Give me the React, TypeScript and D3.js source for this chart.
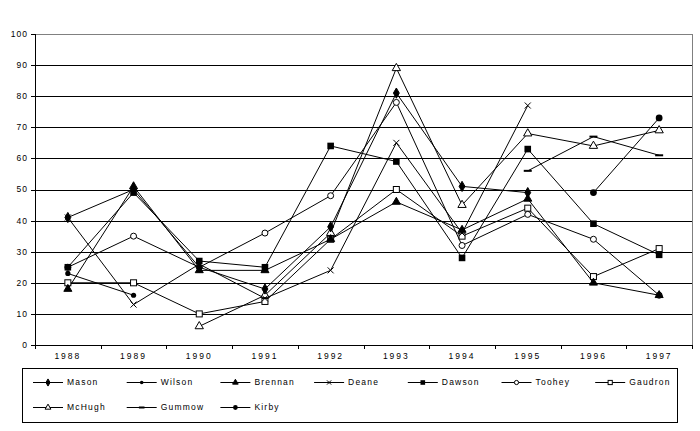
import React from "react";
import * as d3 from "d3";

const years = ["1988", "1989", "1990", "1991", "1992", "1993", "1994", "1995", "1996", "1997"];
const yTicks = [0, 10, 20, 30, 40, 50, 60, 70, 80, 90, 100];

const mason = [41, 50, 25, 18, 38, 81, 51, 49, null, null];
const wilson = [23, 16, null, null, null, null, null, null, null, null];
const brennan = [18, 51, 24, 24, 34, 46, 37, 47, 20, 16];
const deane = [41, 13, 26, 15, 24, 65, 36, 77, null, null];
const dawson = [25, 49, 27, 25, 64, 59, 28, 63, 39, 29];
const toohey = [25, 35, 25, 36, 48, 78, 32, 42, 34, 16];
const gaudron = [20, 20, 10, 14, 34, 50, 35, 44, 22, 31];
const mchugh = [null, null, 6, 16, 36, 89, 45, 68, 64, 69];
const gummow = [null, null, null, null, null, null, null, 56, 67, 61];
const kirby = [null, null, null, null, null, null, null, null, 49, 73];

type Marker = "diamond" | "circle" | "triangle" | "cross" | "square" | "ocircle" | "osquare" | "otriangle" | "dash" | "bigcircle";

const seriesNames = ["Mason", "Wilson", "Brennan", "Deane", "Dawson", "Toohey", "Gaudron", "McHugh", "Gummow", "Kirby"];
const seriesValues = [mason, wilson, brennan, deane, dawson, toohey, gaudron, mchugh, gummow, kirby];
const seriesMarkers: Marker[] = ["diamond", "circle", "triangle", "cross", "square", "ocircle", "osquare", "otriangle", "dash", "bigcircle"];

const W = 700, H = 431;
const left = 35, right = 692, top = 34, bottom = 345;

function MarkerShape({ type, x, y, s }: { type: Marker; x: number; y: number; s: number }) {
  const sym = (t: d3.SymbolType, area: number, filled: boolean) => (
    <path
      d={d3.symbol().type(t).size(area)() || ""}
      transform={`translate(${x},${y})`}
      fill={filled ? "#000" : "#fff"}
      stroke="#000"
      strokeWidth={1}
    />
  );
  switch (type) {
    case "diamond": return sym(d3.symbolDiamond, 30 * s * s, true);
    case "circle": return <circle cx={x} cy={y} r={2.6 * s} fill="#000" />;
    case "bigcircle": return <circle cx={x} cy={y} r={3.4 * s} fill="#000" />;
    case "triangle": return sym(d3.symbolTriangle, 28 * s * s, true);
    case "square": return <rect x={x - 3.3 * s} y={y - 3.3 * s} width={6.6 * s} height={6.6 * s} fill="#000" />;
    case "ocircle": return <circle cx={x} cy={y} r={3 * s} fill="#fff" stroke="#000" />;
    case "osquare": return <rect x={x - 3 * s} y={y - 3 * s} width={6 * s} height={6 * s} fill="#fff" stroke="#000" />;
    case "otriangle": return sym(d3.symbolTriangle, 30 * s * s, false);
    case "cross": {
      const r = 3 * s;
      return (
        <g stroke="#000" strokeWidth={1}>
          <line x1={x - r} y1={y - r} x2={x + r} y2={y + r} />
          <line x1={x - r} y1={y + r} x2={x + r} y2={y - r} />
        </g>
      );
    }
    case "dash": return <rect x={x - 4 * s} y={y - 1} width={8 * s} height={2} fill="#000" />;
  }
}

export default function App() {
  const x = d3.scaleBand<string>().domain(years).range([left, right]);
  const y = d3.scaleLinear().domain([0, 100]).range([bottom, top]);
  const cx = (i: number) => (x(years[i]) as number) + x.bandwidth() / 2;
  const font = "'Liberation Sans', Arial, sans-serif";

  const line = d3
    .line<number | null>()
    .defined((d) => d !== null)
    .x((_, i) => cx(i))
    .y((d) => y(d as number));

  const boundaries = d3.range(years.length + 1).map((i) => left + i * x.bandwidth());

  const legX0 = 33, legDX = 93.7, legRows = [382, 407];
  const order = d3.range(seriesValues.length).reverse();

  return (
    <svg width={W} height={H} style={{ position: "absolute", left: 0, top: 0, background: "#fff" }}>
      <rect x={0} y={0} width={W} height={H} fill="#fff" />
      {yTicks.filter((t) => t > 0 && t < 100).map((t) => (
        <line key={t} x1={left} x2={right} y1={Math.round(y(t)) + 0.5} y2={Math.round(y(t)) + 0.5} stroke="#000" />
      ))}
      <line x1={left} x2={right} y1={top + 0.5} y2={top + 0.5} stroke="#808080" />
      <line x1={right + 0.5} x2={right + 0.5} y1={top} y2={bottom} stroke="#808080" />
      <line x1={left + 0.5} x2={left + 0.5} y1={top} y2={bottom} stroke="#000" />
      {yTicks.map((t) => (
        <g key={t}>
          <line x1={left - 4} x2={left} y1={Math.round(y(t)) + 0.5} y2={Math.round(y(t)) + 0.5} stroke="#000" />
          <text x={28} y={y(t)} dy="0.35em" textAnchor="end" fontFamily={font} fontSize={8.5} letterSpacing={1}>{t}</text>
        </g>
      ))}
      <line x1={left} x2={right + 1} y1={bottom + 0.5} y2={bottom + 0.5} stroke="#000" />
      {boundaries.map((b, i) => (
        <line key={i} x1={Math.round(b) + 0.5} x2={Math.round(b) + 0.5} y1={bottom} y2={bottom + 4} stroke="#000" />
      ))}
      {years.map((yr, i) => (
        <text key={yr} x={cx(i)} y={356} dy="0.35em" textAnchor="middle" fontFamily={font} fontSize={8.5} letterSpacing={2}>{yr}</text>
      ))}
      {seriesValues.map((vals, si) => (
        <path key={si} d={line(vals) || ""} fill="none" stroke="#000" strokeWidth={1} />
      ))}
      {order.map((si) => (
        <g key={si}>
          {seriesValues[si].map((v, i) => v === null ? null : (
            <MarkerShape key={i} type={seriesMarkers[si]} x={cx(i)} y={y(v)} s={1} />
          ))}
        </g>
      ))}
      <rect x={22.5} y={368.5} width={655} height={54} fill="#fff" stroke="#000" />
      {seriesNames.map((name, i) => {
        const col = i % 7, row = Math.floor(i / 7);
        const lx = legX0 + col * legDX;
        const ly = legRows[row];
        return (
          <g key={name}>
            <line x1={lx} x2={lx + 30} y1={ly + 0.5} y2={ly + 0.5} stroke="#000" />
            <MarkerShape type={seriesMarkers[i]} x={lx + 15} y={ly + 0.5} s={0.7} />
            <text x={lx + 34} y={ly} dy="0.35em" fontFamily={font} fontSize={8.5} letterSpacing={1.2}>{name}</text>
          </g>
        );
      })}
    </svg>
  );
}
